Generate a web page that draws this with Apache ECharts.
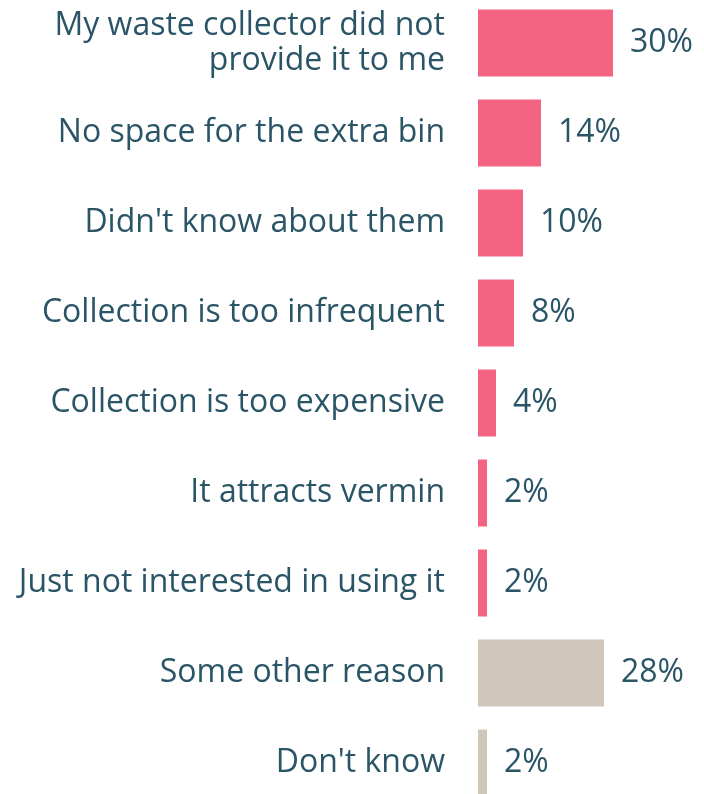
<!DOCTYPE html>
<html>
<head>
<meta charset="utf-8">
<script src="https://cdn.jsdelivr.net/npm/echarts@6/dist/echarts.min.js"></script>
<style>
  html, body { margin: 0; padding: 0; background: #ffffff; }
  #chart { width: 704px; height: 794px; }
</style>
</head>
<body>
<div id="chart"></div>
<script>
// Reasons for not using the extra bin (% of respondents)
const categories = [
  "My waste collector did not\nprovide it to me",
  "No space for the extra bin",
  "Didn't know about them",
  "Collection is too infrequent",
  "Collection is too expensive",
  "It attracts vermin",
  "Just not interested in using it",
  "Some other reason",
  "Don't know"
];
const values = [30, 14, 10, 8, 4, 2, 2, 28, 2];
// Which rows are the "other / don't know" group
const isOther = [false, false, false, false, false, false, false, true, true];

const PINK = "#F46382";
const BEIGE = "#D0C7BA";
const TEXT = "#2A5566";
const FONT = "'Open Sans'";

const chart = echarts.init(document.getElementById("chart"), null, { renderer: "canvas" });

chart.setOption({
  animation: false,
  backgroundColor: "#ffffff",
  grid: { left: 478, top: -2, width: 225, height: 810, containLabel: false, outerBoundsMode: "none" },
  xAxis: {
    type: "value",
    min: 0,
    max: 50,
    show: false
  },
  yAxis: {
    type: "category",
    inverse: true,
    data: categories,
    axisLine: { show: false },
    axisTick: { show: false },
    splitLine: { show: false },
    axisLabel: {
      margin: 33,
      color: TEXT,
      fontFamily: FONT,
      fontSize: 32,
      lineHeight: 35,
      padding: [4, 0, 0, 0],
      align: "right"
    }
  },
  series: [{
    type: "bar",
    barWidth: 67,
    data: values.map((v, i) => ({
      value: v,
      itemStyle: { color: isOther[i] ? BEIGE : PINK }
    })),
    label: {
      show: true,
      position: "right",
      distance: 17,
      color: TEXT,
      fontFamily: FONT,
      fontSize: 32,
      padding: [4, 0, 0, 0],
      formatter: p => p.value + "%"
    }
  }]
});
</script>
</body>
</html>
